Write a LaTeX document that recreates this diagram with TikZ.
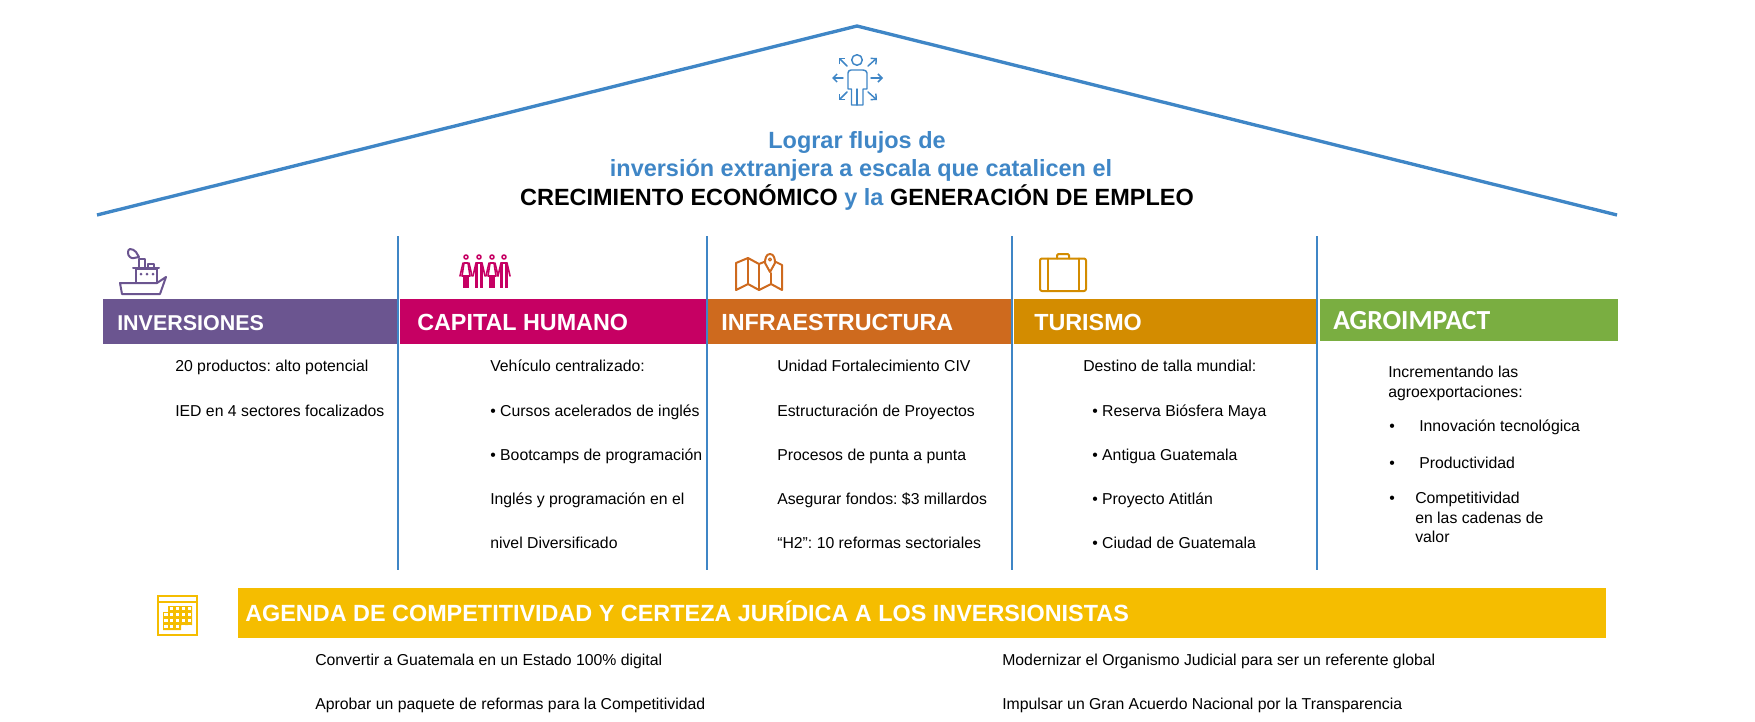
\documentclass[tikz,border=0pt]{standalone}
\usepackage{fontspec}
\setmainfont{Liberation Sans}
\newfontfamily\agrofont{Carlito}
\usetikzlibrary{arrows.meta,positioning}
\definecolor{roofblue}{HTML}{3F86C6}
\definecolor{invpurple}{HTML}{6B5590}
\definecolor{capmagenta}{HTML}{C60063}
\definecolor{infraorange}{HTML}{CE6A1E}
\definecolor{turgold}{HTML}{D38C00}
\definecolor{agrogreen}{HTML}{7AAE41}
\definecolor{agendayellow}{HTML}{F5BD00}
\begin{document}
\frenchspacing
\begin{tikzpicture}[
x=0.75pt, y=-0.75pt,
    >={Straight Barb[length=3pt,width=6pt]},
    roof/.style={line width=2.5pt,roofblue},
    pillar/.style={line width=2pt,roofblue},
    head/.style={text=white,font=\bfseries\fontsize{17.5}{20}\selectfont,anchor=base west,inner sep=0pt,yshift=-6.2pt},
    body/.style={font=\fontsize{11.85}{14}\selectfont,anchor=base west,inner sep=0pt,yshift=-4.4pt},
    goal/.style={font=\bfseries\fontsize{17.6}{20}\selectfont,anchor=base,inner sep=0pt,yshift=-6.3pt},
    icon/.style={line width=1.5pt,line join=round,line cap=round}
]
\useasboundingbox (0,0) rectangle (1755,721);

% techo
\coordinate (roofL) at (97,215);
\coordinate (roofT) at (857,26);
\coordinate (roofR) at (1617,215);
\draw[roof] (roofL) -- (roofT) -- (roofR);

% persona con flechas
\begin{scope}[icon,roofblue,line width=1.1pt]
\draw (857,60) circle (5.3);
\draw (851.5,105) -- (851.5,89) -- (848,89) -- (848,73) to[out=90,in=180] (851,70) -- (863,70) to[out=0,in=90] (867,73) -- (867,89) -- (863,89) -- (863,105) -- cycle;
\draw (857,89) -- (857,105);
\draw[->] (843,78) -- (832,78);
\draw[->] (871,78) -- (883,78);
\draw[->] (847,66) -- (839,58);
\draw[->] (868,66) -- (877,58);
\draw[->] (847,92) -- (839,100);
\draw[->] (868,92) -- (877,100);
\end{scope}

% titulo
\node[goal,text=roofblue] (goal1) at (857,140) {Lograr flujos de};
\node[goal,text=roofblue] (goal2) at (861,168) {inversión extranjera a escala que catalicen el};
\node[goal] (goal3) at (857,197) {CRECIMIENTO ECONÓMICO \textcolor{roofblue}{y la} GENERACIÓN DE EMPLEO};

% barras de color
\fill[invpurple] (103,299) rectangle (397,344);
\fill[capmagenta] (400,299) rectangle (707,344);
\fill[infraorange] (707,299) rectangle (1011,344);
\fill[turgold] (1014,299) rectangle (1316,344);
\fill[agrogreen] (1320,299) rectangle (1618,341);
\fill[agendayellow] (238,588) rectangle (1606,638);

% columnas
\coordinate (p1a) at (398,236); \coordinate (p1b) at (398,570);
\coordinate (p2a) at (707,236); \coordinate (p2b) at (707,570);
\coordinate (p3a) at (1012,236); \coordinate (p3b) at (1012,570);
\coordinate (p4a) at (1317,236); \coordinate (p4b) at (1317,570);
\draw[pillar] (p1a) -- (p1b);
\draw[pillar] (p2a) -- (p2b);
\draw[pillar] (p3a) -- (p3b);
\draw[pillar] (p4a) -- (p4b);

% barco
\begin{scope}[icon,invpurple]
\draw (120,283) -- (122,294) -- (160,294) -- (166,277) -- (157,283) -- cycle;
\draw (136,283) -- (136,269) -- (157,269) -- (157,283);
\draw (133,268) -- (159,268);
\draw (139,268) -- (139,259) -- (145,259) -- (145,268);
\draw (148,268) -- (148,264) -- (154,264) -- (154,268);
\draw (130,249) to[out=0,in=135] (136,252) -- (139,257) -- (134,258) to[out=200,in=-90] (128,253) to[out=90,in=180] (130,249);
\fill (141,274) circle (1.5);
\fill (147,274) circle (1.5);
\fill (153,274) circle (1.5);
\end{scope}

% personas
\begin{scope}[icon,capmagenta,line width=1.2pt]
\foreach \px in {466,492}{
\draw (\px,257) circle (2);
\draw (\px-2,263) -- (\px+2,263) -- (\px+4,276) -- (\px-4,276) -- cycle;
\draw (\px-3,263) -- (\px-6,276);
\draw (\px+3,263) -- (\px+6,276);
\fill (\px-3,276) rectangle (\px+3,288);
}
\foreach \px in {479,504}{
\draw (\px,257) circle (2);
\draw (\px-3,263) -- (\px+3,263);
\draw (\px-3,263) -- (\px-6,276);
\draw (\px+3,263) -- (\px+6,276);
\fill (\px-3.6,264) rectangle (\px-0.6,288);
\fill (\px+0.6,264) rectangle (\px+3.6,288);
}
\end{scope}

% mapa
\begin{scope}[icon,infraorange]
\draw (736,263) -- (748,258) -- (759,264) -- (764,262);
\draw (776,262) -- (782,265) -- (782,290) -- (771,284) -- (759,290) -- (748,284) -- (736,290) -- (736,263);
\draw (748,258) -- (748,284);
\draw (759,264) -- (759,290);
\draw (771,273) -- (771,284);
\draw[fill=white] (770,272) -- (765,263) to[out=90,in=180] (770,254) to[out=0,in=90] (775,263) -- cycle;
\draw[line width=1pt] (770,259.5) circle (1.5);
\end{scope}

% maleta
\begin{scope}[icon,turgold]
\draw[rounded corners=1.5pt] (1040,258.5) rectangle (1086,291);
\draw[rounded corners=1pt] (1057,258.5) -- (1057,254) -- (1069,254) -- (1069,258.5);
\draw (1048,258.5) -- (1048,291);
\draw (1079,258.5) -- (1079,291);
\end{scope}

% calendario
\begin{scope}[agendayellow]
\draw[line width=1.9pt] (158,596) rectangle (197,635);
\draw[line width=1.3pt] (158,602) -- (197,602);
\fill (168,606) -- (192,606) -- (192,625) -- (181,625) -- (181,630) -- (163,630) -- (163,612) -- (168,612) -- cycle;
\foreach \cy in {607.2,613,618.8,624.6}{
\foreach \cx in {164.4,170.2,176,181.8,187.6}{
\fill[white] (\cx,\cy) rectangle +(3.2,3.2);
}}
\end{scope}

% encabezados
\node[head,font=\bfseries\fontsize{16.1}{20}\selectfont] (inv) at (117,322) {INVERSIONES};
\node[head] (cap) at (417,322) {CAPITAL HUMANO};
\node[head] (infra) at (721,322) {INFRAESTRUCTURA};
\node[head] (tur) at (1034,322) {TURISMO};
\node[head,font=\agrofont\bfseries\fontsize{20.7}{22}\selectfont] (agro) at (1333,321) {AGROIMPACT};
\node[head,font=\bfseries\fontsize{17.55}{20}\selectfont] (agenda) at (245,613) {AGENDA DE COMPETITIVIDAD Y CERTEZA JURÍDICA A LOS INVERSIONISTAS};

% inversiones
\node[body] (inv1) at (175,366) {20 productos: alto potencial};
\node[body] (inv2) at (175,411) {IED en 4 sectores focalizados};

% capital humano
\node[body] (cap1) at (490,366) {Vehículo centralizado:};
\node[body] (cap2) at (490,411) {• Cursos acelerados de inglés};
\node[body] (cap3) at (490,455) {• Bootcamps de programación};
\node[body] (cap4) at (490,499) {Inglés y programación en el};
\node[body] (cap5) at (490,543) {nivel Diversificado};

% infraestructura
\node[body] (infra1) at (777,366) {Unidad Fortalecimiento CIV};
\node[body] (infra2) at (777,411) {Estructuración de Proyectos};
\node[body] (infra3) at (777,455) {Procesos de punta a punta};
\node[body] (infra4) at (777,499) {Asegurar fondos: \$3 millardos};
\node[body] (infra5) at (777,543) {“H2”: 10 reformas sectoriales};

% turismo
\node[body] (tur1) at (1083,366) {Destino de talla mundial:};
\node[body] (tur2) at (1092,411) {• Reserva Biósfera Maya};
\node[body] (tur3) at (1092,455) {• Antigua Guatemala};
\node[body] (tur4) at (1092,499) {• Proyecto Atitlán};
\node[body] (tur5) at (1092,543) {• Ciudad de Guatemala};

% agroimpact
\node[body] (agro1) at (1388,372) {Incrementando las};
\node[body] (agro2) at (1388,392) {agroexportaciones:};
\node[body] (agro3) at (1389,426) {•};
\node[body] (agro4) at (1419,426) {Innovación tecnológica};
\node[body] (agro5) at (1389,463) {•};
\node[body] (agro6) at (1419,463) {Productividad};
\node[body] (agro7) at (1389,498) {•};
\node[body] (agro8) at (1415,498) {Competitividad};
\node[body] (agro9) at (1415,518) {en las cadenas de};
\node[body] (agro10) at (1415,537) {valor};

% agenda
\node[body] (age1) at (315,660) {Convertir a Guatemala en un Estado 100\% digital};
\node[body] (age2) at (315,704) {Aprobar un paquete de reformas para la Competitividad};
\node[body] (age3) at (1002,660) {Modernizar el Organismo Judicial para ser un referente global};
\node[body] (age4) at (1002,704) {Impulsar un Gran Acuerdo Nacional por la Transparencia};

\end{tikzpicture}
\end{document}
